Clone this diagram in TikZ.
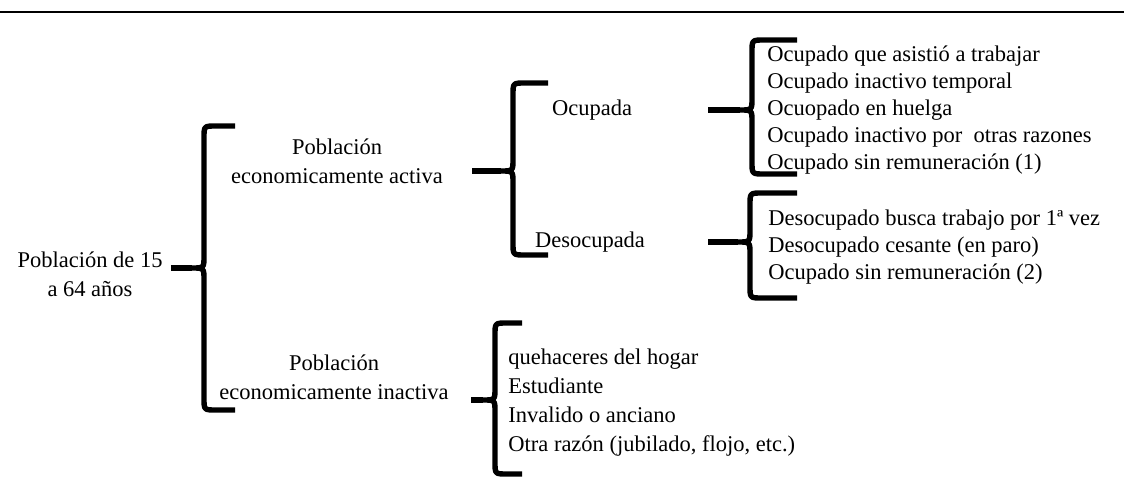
\documentclass[tikz,border=0pt]{standalone}
\usepackage{fontspec}
\setmainfont{Liberation Serif}
\usetikzlibrary{positioning}

\begin{document}
\begin{tikzpicture}[x=0.5pt, y=-0.5pt,
  label/.style={font=\fontsize{11.25}{14.5}\selectfont, align=center, inner sep=0pt},
  list/.style={font=\fontsize{11.25}{13.5}\selectfont, align=left, anchor=west, inner sep=0pt},
  curly/.style={line width=2.7pt, line join=round}]
  \useasboundingbox (0,0) rectangle (1124,486);
  % rule across the top
  \draw[line width=1.4pt] (0,12) -- (1124,12);

  % labels
  \node[label] (root) at (90,274) {Población de 15\\a 64 años};
  \node[label] (pea)  at (337,161) {Población\\economicamente activa};
  \node[label] (pei)  at (334,377) {Población\\economicamente inactiva};
  \node[label] (ocu)  at (592,110) {Ocupada};
  \node[label] (deso) at (590,242) {Desocupada};

  % lists
  \node[list] (ocuList) at (767,110) {Ocupado que asistió a trabajar\\
    Ocupado inactivo temporal\\Ocuopado en huelga\\
    Ocupado inactivo por\ \ otras razones\\Ocupado sin remuneración (1)};
  \node[list] (desoList) at (768,247) {Desocupado busca trabajo por 1ª vez\\
    Desocupado cesante (en paro)\\Ocupado sin remuneración (2)};
  \node[list, font=\fontsize{11.25}{14.5}\selectfont] (peiList) at (508,403)
    {quehaceres del hogar\\Estudiante\\Invalido o anciano\\
    Otra razón (jubilado, flojo, etc.)};

  % brace tips
  \coordinate (t1) at (192,268);
  \coordinate (t2) at (501,171);
  \coordinate (t3) at (740,110);
  \coordinate (t4) at (738,242);
  \coordinate (t5) at (483,400);

  % braces
  \draw[curly] (235,126) -- (216,126) .. controls (204,126) .. (204,138) -- (204,256)
    .. controls (204,268) .. (t1) .. controls (204,268) .. (204,280) -- (204,398)
    .. controls (204,410) .. (216,410) -- (235,410);
  \draw[curly] ([xshift=4pt]root.east |- t1) -- (t1);

  \draw[curly] (548,83) -- (525,83) .. controls (513,83) .. (513,95) -- (513,159)
    .. controls (513,171) .. (t2) .. controls (513,171) .. (513,183) -- (513,243)
    .. controls (513,255) .. (525,255) -- (548,255);
  \draw[curly] ([xshift=14.5pt]pea.east |- t2) -- (t2);

  \draw[curly] (797,40) -- (764,40) .. controls (752,40) .. (752,52) -- (752,98)
    .. controls (752,110) .. (t3) .. controls (752,110) .. (752,122) -- (752,162)
    .. controls (752,174) .. (764,174) -- (797,174);
  \draw[curly] ([xshift=38pt]ocu.east |- t3) -- (t3);

  \draw[curly] (797,193) -- (762,193) .. controls (750,193) .. (750,205) -- (750,230)
    .. controls (750,242) .. (t4) .. controls (750,242) .. (750,254) -- (750,286)
    .. controls (750,298) .. (762,298) -- (797,298);
  \draw[curly] ([xshift=31.5pt]deso.east |- t4) -- (t4);

  \draw[curly] (522,323) -- (507,323) .. controls (495,323) .. (495,335) -- (495,388)
    .. controls (495,400) .. (t5) .. controls (495,400) .. (495,412) -- (495,462)
    .. controls (495,474) .. (507,474) -- (522,474);
  \draw[curly] ([xshift=11pt]pei.east |- t5) -- (t5);
\end{tikzpicture}
\end{document}
